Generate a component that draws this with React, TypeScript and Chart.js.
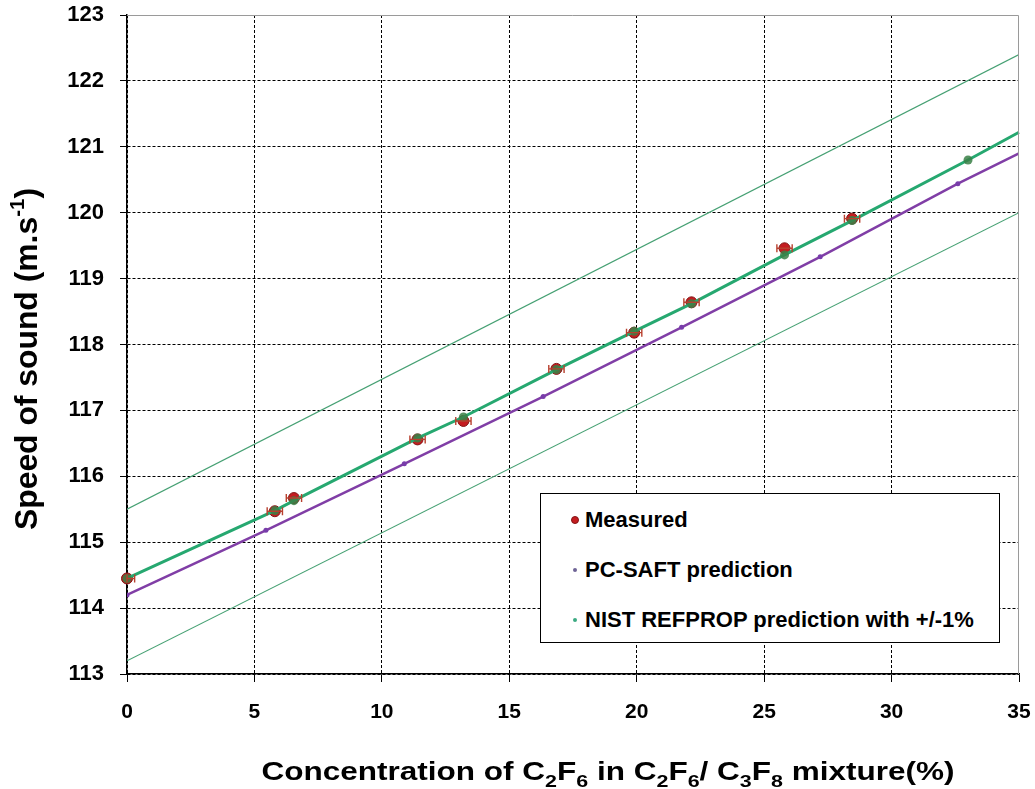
import React, { useEffect, useRef } from 'react';
import { Chart, registerables } from 'chart.js';

Chart.register(...registerables);

const FONT = "'Liberation Sans', Arial, Helvetica, sans-serif";

// measured points (concentration of C2F6 in %, speed of sound in m/s)
const concentration = [0, 5.8, 6.55, 11.4, 13.2, 16.85, 19.9, 22.15, 25.8, 28.45];
const measured = [114.45, 115.47, 115.67, 116.56, 116.84, 117.63, 118.18, 118.64, 119.46, 119.91];
const concentrationErr = [0.3, 0.3, 0.3, 0.3, 0.3, 0.3, 0.3, 0.3, 0.3, 0.3];

// NIST REFPROP prediction
const nistConc = [0, 5.8, 6.55, 11.4, 13.2, 16.85, 19.9, 22.15, 25.8, 28.45, 33, 35];
const nistSpeed = [114.45, 115.48, 115.63, 116.58, 116.9, 117.62, 118.2, 118.62, 119.36, 119.88, 120.8, 121.22];

// +/- 1% band
const boundConc = [0, 35];
const upperSpeed = [115.5, 122.4];
const lowerSpeed = [113.2, 120.0];

// PC-SAFT prediction
const saftConc = [0, 5.45, 10.88, 16.33, 21.76, 27.2, 32.6, 35];
const saftSpeed = [114.2, 115.18, 116.19, 117.21, 118.26, 119.33, 120.44, 120.9];

const xTicks = [0, 5, 10, 15, 20, 25, 30, 35];
const yTicks = [113, 114, 115, 116, 117, 118, 119, 120, 121, 122, 123];

const legendLabels = ['Measured', 'PC-SAFT prediction', 'NIST REFPROP prediction with +/-1%'];

const pts = (xs: number[], ys: number[]) => xs.map((x, i) => ({ x, y: ys[i] }));

type Seg = { text: string; sub?: boolean; sup?: boolean };

const xTitle: Seg[] = [
  { text: 'Concentration of C' }, { text: '2', sub: true }, { text: 'F' }, { text: '6', sub: true },
  { text: ' in C' }, { text: '2', sub: true }, { text: 'F' }, { text: '6', sub: true },
  { text: '/ C' }, { text: '3', sub: true }, { text: 'F' }, { text: '8', sub: true },
  { text: ' mixture(%)' },
];
const yTitle: Seg[] = [{ text: 'Speed of sound (m.s' }, { text: '-1', sup: true }, { text: ')' }];

function drawRich(ctx: CanvasRenderingContext2D, segs: Seg[], size: number, targetLen: number) {
  const small = Math.round(size * 0.66);
  const widths = segs.map((s) => {
    ctx.font = `bold ${s.sub || s.sup ? small : size}px ${FONT}`;
    return ctx.measureText(s.text).width;
  });
  const total = widths.reduce((a, b) => a + b, 0);
  ctx.scale(targetLen / total, 1);
  let x = -total / 2;
  ctx.fillStyle = '#000';
  ctx.textBaseline = 'alphabetic';
  ctx.textAlign = 'left';
  segs.forEach((s, i) => {
    ctx.font = `bold ${s.sub || s.sup ? small : size}px ${FONT}`;
    const dy = s.sub ? size * 0.26 : s.sup ? -size * 0.42 : 0;
    ctx.fillText(s.text, x, dy);
    x += widths[i];
  });
}

const extrasPlugin = {
  id: 'extras',
  afterDatasetsDraw(chart: any) {
    const { ctx, chartArea, scales } = chart;
    // grey top / right frame
    ctx.save();
    ctx.strokeStyle = '#9a9a9a';
    ctx.lineWidth = 1;
    ctx.beginPath();
    ctx.moveTo(chartArea.left, chartArea.top + 0.5);
    ctx.lineTo(chartArea.right - 0.5, chartArea.top + 0.5);
    ctx.lineTo(chartArea.right - 0.5, chartArea.bottom);
    ctx.stroke();

    // horizontal error bars on the measured points
    ctx.strokeStyle = '#b8402e';
    ctx.lineWidth = 1.4;
    concentration.forEach((c, i) => {
      const y = scales.y.getPixelForValue(measured[i]);
      const x0 = scales.x.getPixelForValue(Math.max(c - concentrationErr[i], 0));
      const x1 = scales.x.getPixelForValue(c + concentrationErr[i]);
      ctx.beginPath();
      ctx.moveTo(x0, y);
      ctx.lineTo(x1, y);
      ctx.moveTo(x0, y - 4);
      ctx.lineTo(x0, y + 4);
      ctx.moveTo(x1, y - 4);
      ctx.lineTo(x1, y + 4);
      ctx.stroke();
    });
    ctx.restore();
  },
  afterDraw(chart: any) {
    const { ctx } = chart;
    ctx.save();
    ctx.translate(608, 780);
    drawRich(ctx, xTitle, 25, 693);
    ctx.restore();

    ctx.save();
    ctx.translate(37, 359);
    ctx.rotate(-Math.PI / 2);
    drawRich(ctx, yTitle, 31, 342);
    ctx.restore();
  },
};

const SpeedOfSoundChart: React.FC = () => {
  const canvasRef = useRef<HTMLCanvasElement>(null);
  const chartRef = useRef<Chart | null>(null);

  useEffect(() => {
    if (!canvasRef.current) return;
    const ctx = canvasRef.current.getContext('2d');
    if (!ctx) return;
    if (chartRef.current) chartRef.current.destroy();

    chartRef.current = new Chart(ctx, {
      type: 'scatter',
      data: {
        datasets: [
          {
            label: 'NIST REFPROP prediction',
            data: pts(nistConc, nistSpeed),
            showLine: true,
            borderColor: 'rgb(38,168,112)',
            borderWidth: 3,
            pointRadius: nistConc.map((c) => (c === 35 ? 0 : 4.5)),
            pointBackgroundColor: 'rgba(58,128,70,0.85)',
            pointBorderWidth: 0,
            clip: false,
            order: 0,
          },
          {
            label: 'Measured',
            data: pts(concentration, measured),
            pointRadius: 5.5,
            pointBackgroundColor: 'rgb(196,28,32)',
            pointBorderColor: 'rgb(130,20,20)',
            pointBorderWidth: 1,
            clip: false,
            order: 1,
          },
          {
            label: 'PC-SAFT prediction',
            data: pts(saftConc, saftSpeed),
            showLine: true,
            borderColor: 'rgb(128,62,166)',
            borderWidth: 2.5,
            pointRadius: saftConc.map((c) => (c === 35 ? 0 : 2.5)),
            pointBackgroundColor: 'rgb(120,60,170)',
            pointBorderWidth: 0,
            order: 2,
          },
          {
            label: '+1%',
            data: pts(boundConc, upperSpeed),
            showLine: true,
            borderColor: 'rgb(70,160,115)',
            borderWidth: 1.2,
            pointRadius: 0,
            order: 3,
          },
          {
            label: '-1%',
            data: pts(boundConc, lowerSpeed),
            showLine: true,
            borderColor: 'rgb(70,160,115)',
            borderWidth: 1.2,
            pointRadius: 0,
            order: 3,
          },
        ],
      },
      options: {
        responsive: true,
        maintainAspectRatio: false,
        animation: false,
        layout: { padding: { top: 15, right: 16, left: 0, bottom: 0 } },
        plugins: {
          legend: { display: false },
          tooltip: { enabled: false },
        },
        scales: {
          x: {
            type: 'linear',
            min: xTicks[0],
            max: xTicks[xTicks.length - 1],
            afterFit: (scale: any) => {
              scale.height = 115;
              scale.paddingLeft = 0;
              scale.paddingRight = 0;
            },
            ticks: {
              stepSize: xTicks[1] - xTicks[0],
              color: '#000',
              padding: 18,
              font: { family: FONT, size: 21, weight: 'bold' },
            },
            grid: {
              color: (c: any) => (c.tick && c.tick.value === xTicks[xTicks.length - 1] ? 'transparent' : '#000'),
              lineWidth: 1,
              tickLength: 8,
              tickColor: '#000',
              tickBorderDash: [],
            },
            border: { display: true, color: '#000', width: 1.5, dash: [3, 2] },
          },
          y: {
            type: 'linear',
            min: yTicks[0],
            max: yTicks[yTicks.length - 1],
            afterFit: (scale: any) => {
              scale.width = 127;
              scale.paddingTop = 0;
              scale.paddingBottom = 0;
            },
            ticks: {
              stepSize: yTicks[1] - yTicks[0],
              color: '#000',
              padding: 16,
              font: { family: FONT, size: 22, weight: 'bold' },
            },
            grid: {
              color: (c: any) => (c.tick && c.tick.value === yTicks[yTicks.length - 1] ? 'transparent' : '#000'),
              lineWidth: 1,
              tickLength: 7,
              tickColor: '#000',
              tickBorderDash: [],
            },
            border: { display: true, color: '#000', width: 1.5, dash: [3, 2] },
          },
        },
      },
      plugins: [extrasPlugin],
    } as any);

    return () => {
      if (chartRef.current) {
        chartRef.current.destroy();
        chartRef.current = null;
      }
    };
  }, []);

  const markers = [
    { size: 8, color: 'rgb(196,28,32)', border: '1px solid rgb(130,20,20)' },
    { size: 4, color: 'rgb(110,100,150)', border: 'none' },
    { size: 4, color: 'rgb(60,170,130)', border: 'none' },
  ];

  return (
    <div style={{ position: 'absolute', left: 0, top: 0, width: 1035, height: 789, background: '#fff' }}>
      <canvas ref={canvasRef}></canvas>
      <div
        style={{
          position: 'absolute',
          left: 540,
          top: 493,
          width: 458,
          height: 148,
          border: '1.5px solid #000',
          background: '#fff',
          fontFamily: FONT,
          fontWeight: 'bold',
          fontSize: 22,
          color: '#000',
        }}
      >
        {legendLabels.map((label, i) => (
          <div
            key={label}
            style={{ position: 'absolute', left: 0, top: 12 + i * 50, height: 28, display: 'flex', alignItems: 'center', whiteSpace: 'nowrap' }}
          >
            <span
              style={{
                display: 'inline-block',
                width: markers[i].size,
                height: markers[i].size,
                borderRadius: '50%',
                background: markers[i].color,
                border: markers[i].border,
                boxSizing: 'border-box',
                marginLeft: 34 - markers[i].size / 2,
                marginRight: 10 - markers[i].size / 2,
              }}
            />
            <span>{label}</span>
          </div>
        ))}
      </div>
    </div>
  );
};

export default function App() {
  return <SpeedOfSoundChart />;
}
